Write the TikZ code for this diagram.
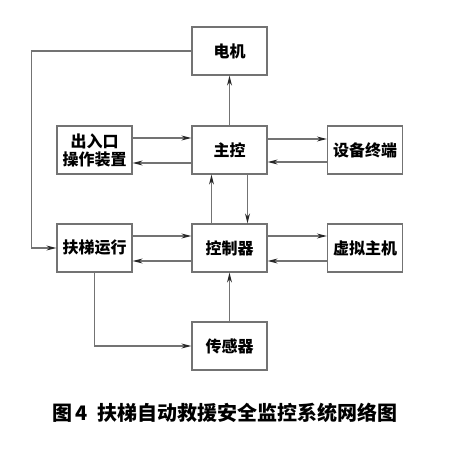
\documentclass[tikz,border=0pt]{standalone}
\usepackage{fontspec}
\newfontfamily\cjk{Noto Sans CJK SC}
\usetikzlibrary{arrows.meta,positioning,calc}

\begin{document}
\begin{tikzpicture}[x=1pt,y=1pt,
  blk/.style={draw=black!55,line width=1.2pt,minimum width=75pt,minimum height=48pt,
    inner sep=2pt,align=center,font=\cjk\bfseries\fontsize{16}{18}\selectfont},
  lnk/.style={draw=black!55,line width=1.2pt,-{Stealth[length=10pt,width=5pt,color=black!85]}}]
  \useasboundingbox (0,0) rectangle (470,458);
  % 各模块方框
  \node[blk] (dj) at (229.5,407) {电机};
  \node[blk] (zk) at (229.5,308) {主控};
  \node[blk] (crk) at (94.5,308) {出入口\\操作装置};
  \node[blk] (sb) at (365,308) {设备终端};
  \node[blk] (kzq) at (229.5,210) {控制器};
  \node[blk] (xn) at (365,210) {虚拟主机};
  \node[blk] (ft) at (94.5,210) {扶梯运行};
  \node[blk] (cgq) at (229.5,112) {传感器};
  \coordinate (zs) at (31.7,407);

  % 连线
  \draw[lnk] (zk) -- (dj);
  \draw[lnk] (dj.west) -- (zs) |- (ft.west);
  \draw[lnk] ([yshift=12pt]crk.east) -- ([yshift=12pt]zk.west);
  \draw[lnk] ([yshift=-13pt]zk.west) -- ([yshift=-13pt]crk.east);
  \draw[lnk] ([yshift=11pt]zk.east) -- ([yshift=11pt]sb.west);
  \draw[lnk] ([yshift=-12pt]sb.west) -- ([yshift=-12pt]zk.east);
  \draw[lnk] ([xshift=-18pt]kzq.north) -- ([xshift=-18pt]zk.south);
  \draw[lnk] ([xshift=18pt]zk.south) -- ([xshift=18pt]kzq.north);
  \draw[lnk] ([yshift=12pt]kzq.east) -- ([yshift=12pt]xn.west);
  \draw[lnk] ([yshift=-13pt]xn.west) -- ([yshift=-13pt]kzq.east);
  \draw[lnk] ([yshift=12pt]ft.east) -- ([yshift=12pt]kzq.west);
  \draw[lnk] ([yshift=-13pt]kzq.west) -- ([yshift=-13pt]ft.east);
  \draw[lnk] (ft.south) |- (cgq.west);
  \draw[lnk] (cgq) -- (kzq);

  % 图题
  \node[font=\cjk\bfseries\fontsize{20}{22}\selectfont] (tt) at (225,45)
    {图\,4\ \ 扶梯自动救援安全监控系统网络图};
\end{tikzpicture}
\end{document}
